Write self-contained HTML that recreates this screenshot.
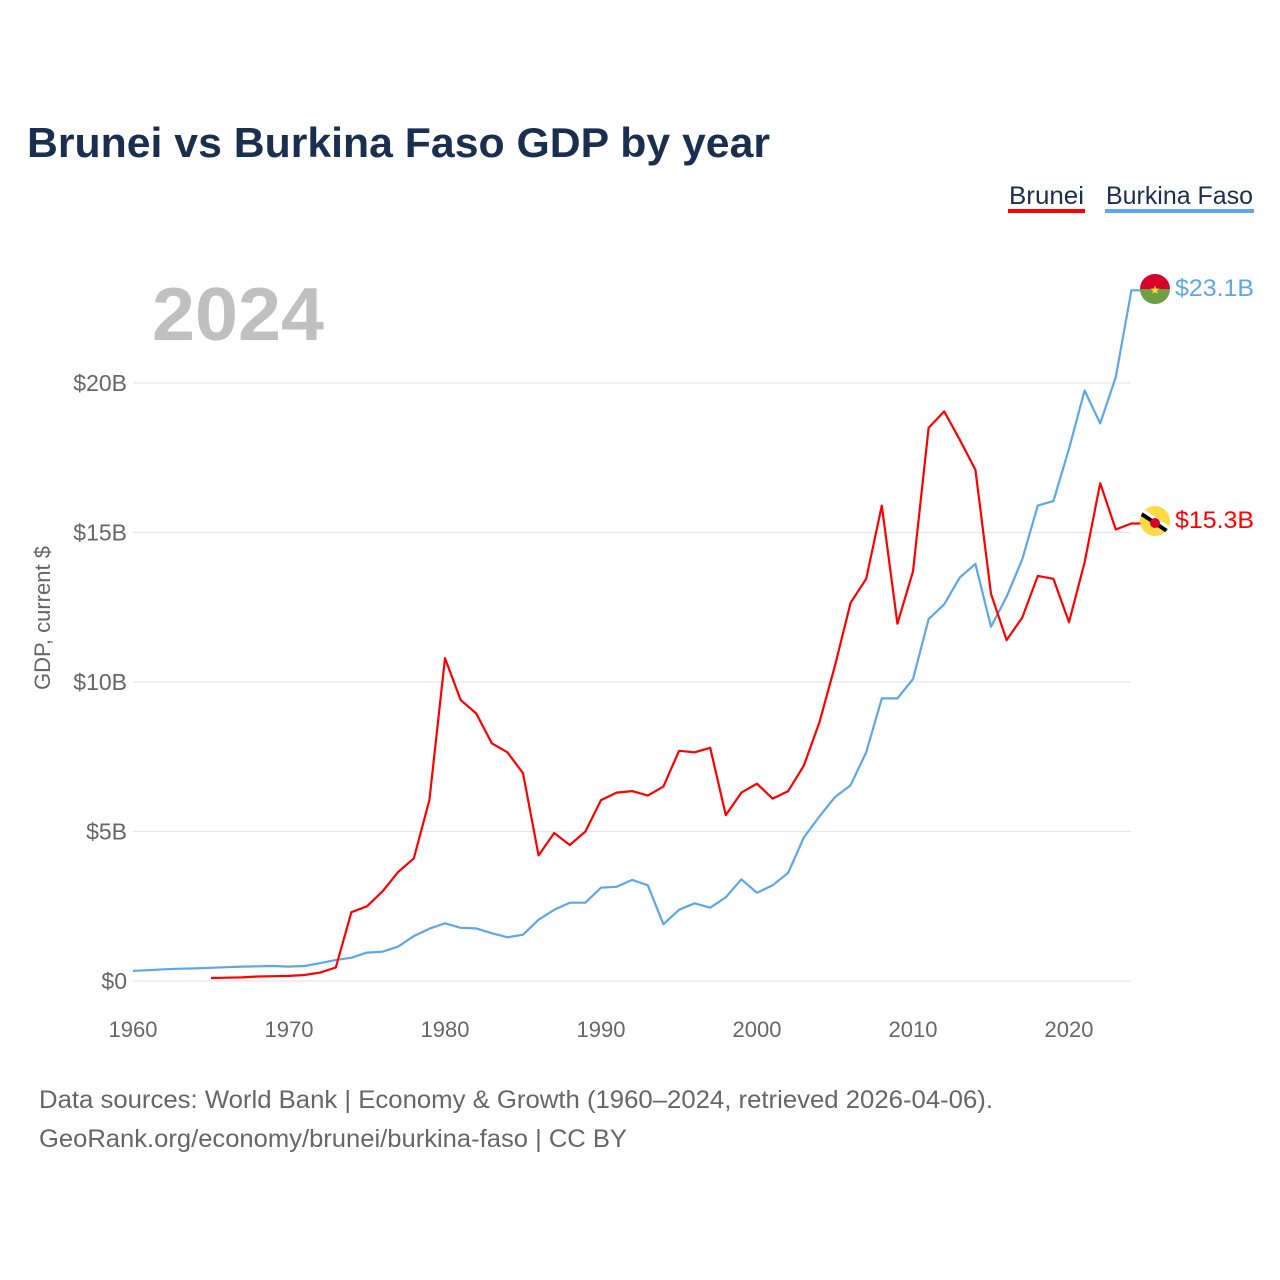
<!DOCTYPE html>
<html><head><meta charset="utf-8"><style>
body{margin:0;background:#fff;font-family:"Liberation Sans",sans-serif;}
svg{display:block}
</style></head><body>
<svg id="chart" width="1280" height="1280" viewBox="0 0 1280 1280">
<text x="27" y="157" font-size="42" font-weight="bold" fill="#1a2e50" textLength="743" lengthAdjust="spacingAndGlyphs">Brunei vs Burkina Faso GDP by year</text>
<g>
<text x="1009" y="204" font-size="25" fill="#1a2e50" textLength="75" lengthAdjust="spacingAndGlyphs">Brunei</text>
<rect x="1008" y="209" width="77" height="4" fill="#ff0000"/>
<text x="1106" y="204" font-size="25" fill="#1a2e50" textLength="147" lengthAdjust="spacingAndGlyphs">Burkina Faso</text>
<rect x="1105" y="209" width="149" height="4" fill="#5ea6ea"/>
</g>
<text x="152" y="340" font-size="75" font-weight="bold" fill="#c0c0c0" textLength="172" lengthAdjust="spacingAndGlyphs">2024</text>
<g id="grid"></g>
<g id="axes"></g>
<text transform="translate(50,618) rotate(-90)" text-anchor="middle" font-size="22" fill="#666">GDP, current $</text>
<g id="series"></g>
<g>
<clipPath id="cb"><circle cx="1155" cy="289" r="15"/></clipPath>
<g clip-path="url(#cb)"><rect x="1140" y="274" width="30" height="15" fill="#d8002a"/><rect x="1140" y="289" width="30" height="15" fill="#6ea043"/></g>
<text x="1155" y="294" font-size="12" text-anchor="middle" fill="#ffda44">★</text>
</g>
<g>
<clipPath id="cbr"><circle cx="1155" cy="521" r="15"/></clipPath>
<g clip-path="url(#cbr)"><rect x="1140" y="506" width="30" height="30" fill="#ffda44"/>
<line x1="1140" y1="511" x2="1170" y2="531" stroke="#fff" stroke-width="7"/>
<line x1="1140" y1="513" x2="1170" y2="533" stroke="#000" stroke-width="4"/>
<circle cx="1155" cy="523" r="5" fill="#d80027"/></g>
</g>
<text x="1175" y="296" font-size="24" fill="#5ea6ea" textLength="79" lengthAdjust="spacingAndGlyphs">$23.1B</text>
<text x="1175" y="528" font-size="24" fill="#ff0000" textLength="79" lengthAdjust="spacingAndGlyphs">$15.3B</text>
<text x="39" y="1108" font-size="25" fill="#666" textLength="954" lengthAdjust="spacingAndGlyphs">Data sources: World Bank | Economy &amp; Growth (1960–2024, retrieved 2026-04-06).</text>
<text x="39" y="1147" font-size="25" fill="#666" textLength="588" lengthAdjust="spacingAndGlyphs">GeoRank.org/economy/brunei/burkina-faso | CC BY</text>
</svg>
<script>
const yTicks=[0,5,10,15,20];
const yTickLabels=["$0","$5B","$10B","$15B","$20B"];
const xTicks=[1960,1970,1980,1990,2000,2010,2020];
const bruneiStart=1965;
const bruneiValues=[0.1,0.11,0.12,0.15,0.16,0.17,0.2,0.28,0.45,2.3,2.5,3.0,3.65,4.1,6.05,10.8,9.4,8.95,7.95,7.65,6.95,4.2,4.95,4.55,5.0,6.05,6.3,6.35,6.2,6.5,7.7,7.65,7.8,5.55,6.3,6.6,6.1,6.35,7.2,8.65,10.55,12.65,13.45,15.9,11.95,13.7,18.5,19.05,18.1,17.1,12.95,11.4,12.15,13.55,13.45,12.0,14.0,16.65,15.1,15.3];
const burkinaStart=1960;
const burkinaValues=[0.34,0.36,0.39,0.41,0.42,0.44,0.46,0.48,0.49,0.5,0.48,0.5,0.6,0.7,0.78,0.95,0.98,1.15,1.5,1.75,1.93,1.78,1.76,1.6,1.46,1.55,2.05,2.38,2.62,2.62,3.12,3.15,3.38,3.2,1.9,2.38,2.6,2.45,2.8,3.4,2.95,3.2,3.62,4.8,5.5,6.15,6.55,7.65,9.45,9.45,10.1,12.1,12.6,13.5,13.95,11.85,12.85,14.1,15.9,16.05,17.8,19.75,18.65,20.2,23.1];
const NS="http://www.w3.org/2000/svg";
const xs=y=>133+(y-1960)*15.6;
const ys=v=>981-v*29.9;
const grid=document.getElementById('grid'),axes=document.getElementById('axes'),series=document.getElementById('series');
yTicks.forEach((t,i)=>{
 const l=document.createElementNS(NS,'line');
 l.setAttribute('x1',133);l.setAttribute('x2',1131);l.setAttribute('y1',ys(t));l.setAttribute('y2',ys(t));
 l.setAttribute('stroke','#e6e6e6');l.setAttribute('stroke-width','1.3');
 
 
 grid.appendChild(l);
 const tx=document.createElementNS(NS,'text');
 tx.setAttribute('x',127);tx.setAttribute('y',ys(t)+8);tx.setAttribute('text-anchor','end');
 tx.setAttribute('font-size','23');tx.setAttribute('fill','#666');tx.textContent=yTickLabels[i];
 
 
 axes.appendChild(tx);
});
xTicks.forEach(t=>{
 const tx=document.createElementNS(NS,'text');
 tx.setAttribute('x',xs(t));tx.setAttribute('y',1037);tx.setAttribute('text-anchor','middle');
 tx.setAttribute('font-size','22');tx.setAttribute('fill','#666');tx.textContent=t;
 
 
 axes.appendChild(tx);
});
function line(start,vals,color,name){
 const pts=vals.map((v,i)=>xs(start+i).toFixed(1)+','+ys(v).toFixed(1));
 const last=vals[vals.length-1];
 pts.push('1141,'+ys(last).toFixed(1));
 const p=document.createElementNS(NS,'polyline');
 p.setAttribute('points',pts.join(' '));p.setAttribute('fill','none');
 p.setAttribute('stroke',color);p.setAttribute('stroke-width','2.2');p.setAttribute('stroke-linejoin','round');
 
 
 series.appendChild(p);
}
line(burkinaStart,burkinaValues,'#5ea6ea','line-burkina-faso');
line(bruneiStart,bruneiValues,'#ff0000','line-brunei');
</script>
</body></html>
